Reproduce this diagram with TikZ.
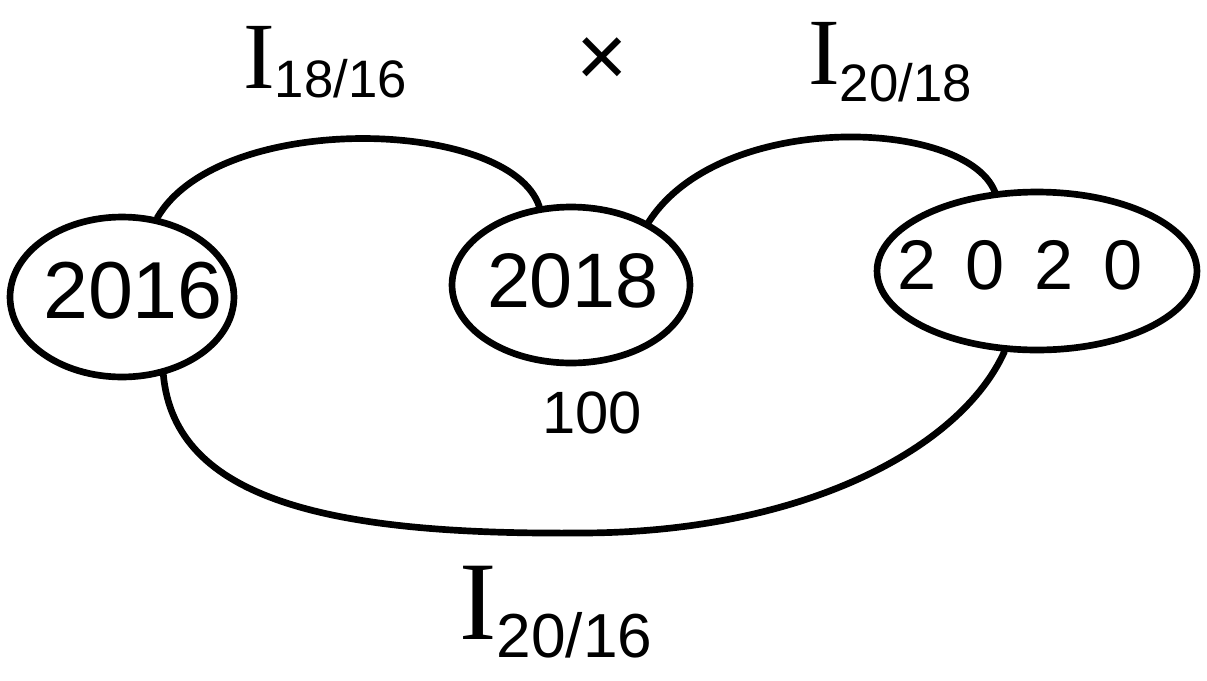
\documentclass[tikz,border=0pt]{standalone}
\usepackage{fontspec}
\setmainfont{Liberation Sans}
\newfontfamily\ifont{Liberation Serif}
\usetikzlibrary{shapes.geometric,positioning}

% index label: big I with a lowered ratio
\newcommand{\Iidx}[3]{{\ifont\fontsize{54}{54}\selectfont I}\raisebox{#3}{\fontsize{30}{30}\selectfont #1/#2}}

\begin{document}
\begin{tikzpicture}[
  x=0.02cm, y=0.02cm,
  year/.style={draw, ellipse, line width=3.8pt, inner sep=0pt},
  link/.style={line width=3.8pt, line cap=round},
  lbl/.style={inner sep=0pt}
]
  \useasboundingbox (0,0) rectangle (1207,-680);

  \node[year, minimum width=4.48cm, minimum height=3.2cm,
        label={[xshift=0.22cm, yshift=0.12cm, font=\fontsize{46}{46}\selectfont]center:2016}] (y16) at (122,-297) {};
  \node[year, minimum width=4.76cm, minimum height=3.12cm,
        label={[xshift=0.04cm, yshift=0.08cm, font=\fontsize{44}{44}\selectfont]center:2018}] (y18) at (571,-285) {};
  \node[year, minimum width=6.4cm, minimum height=3.16cm,
        label={[xshift=-0.34cm, yshift=0.12cm, font=\fontsize{40}{40}\selectfont]center:2\hspace{17pt}0\hspace{17pt}2\hspace{17pt}0}] (y20) at (1037,-271) {};

  \draw[link] (y16.66) .. controls (220,-110) and (510,-118) .. (y18.112);
  \draw[link] (y18.39) .. controls (720,-110) and (965,-118) .. (y20.118);
  \draw[link] (y16.-62) .. controls (175,-500) and (330,-535) .. (580,-533)
              .. controls (800,-533) and (960,-450) .. (y20.-112);

  \node[lbl, font=\fontsize{34}{34}\selectfont, below=0.5cm of y18, xshift=0.42cm] (n100) {100};

  \node[lbl] (i1816) at (325,-62) {\Iidx{18}{16}{-5pt}};
  \node[lbl, font=\fontsize{50}{50}\selectfont] (times) at (602,-62) {×};
  \node[lbl] (i2018) at (890,-62) {\Iidx{20}{18}{-10pt}};
  \node[lbl, scale=1.18, transform shape] (i2016) at (556,-612) {\Iidx{20}{16}{-9pt}};
\end{tikzpicture}
\end{document}
